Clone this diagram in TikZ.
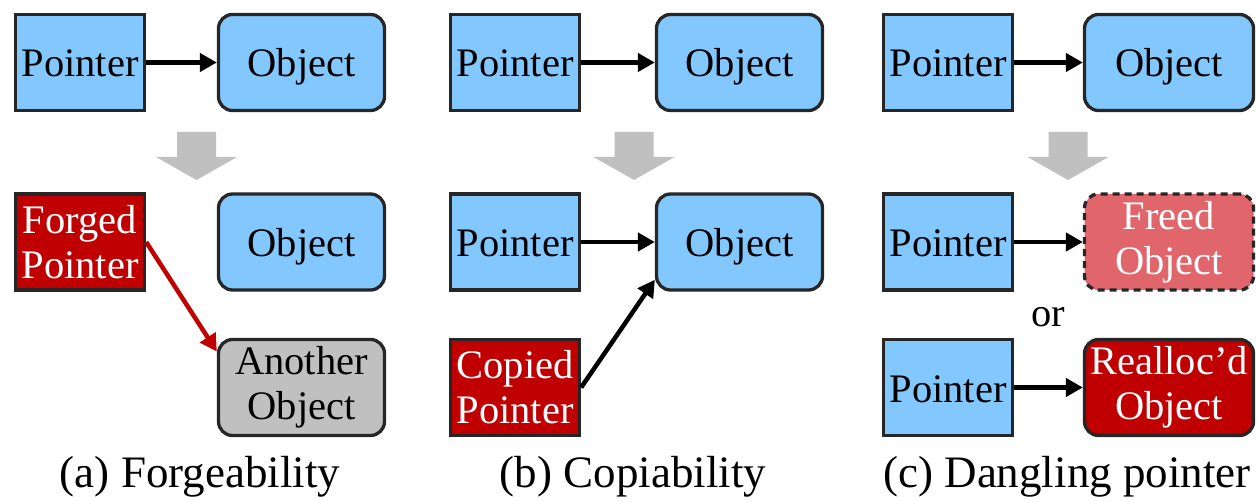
\documentclass[tikz,border=0pt]{standalone}
\usepackage{fontspec}
\setmainfont{Liberation Serif}
\usetikzlibrary{arrows.meta}
\definecolor{ptrblue}{RGB}{130,200,255}
\definecolor{badred}{RGB}{192,0,0}
\definecolor{freedred}{RGB}{224,102,108}
\definecolor{edgegray}{RGB}{38,38,38}
\definecolor{stepgray}{RGB}{192,192,192}
\begin{document}
\begin{tikzpicture}[x=1pt,y=-1pt,
  box/.style={draw=edgegray,line width=3.3pt,minimum width=129pt,minimum height=96pt,
    inner sep=0pt,align=center,font=\fontsize{40.5}{45}\selectfont},
  oneline/.style={text height=29pt,text depth=0pt},
  ptr/.style={box,oneline,fill=ptrblue},
  badptr/.style={box,fill=badred,text=white},
  obj/.style={box,rounded corners=14pt,minimum width=166pt,fill=ptrblue},
  link/.style={line width=4.5pt,-{Triangle[length=17pt,width=18pt]}},
  caption/.style={font=\fontsize{45}{50}\selectfont},
  stepdown/.pic={\fill[stepgray] (-19.5,0) -- (19.5,0) -- (19.5,25) -- (40.5,25)
      -- (0,48) -- (-40.5,25) -- (-19.5,25) -- cycle;}]
\useasboundingbox (0,0) rectangle (1257,502);

% (a) Forgeability
\node[ptr] (pa) at (80,62.5) {Pointer};
\node[obj,oneline] (oa) at (301.5,62.5) {Object};
\draw[link] (pa) -- (oa);
\pic at (196.5,132) {stepdown};
\node[badptr] (fa) at (80,242) {Forged\\Pointer};
\node[obj,oneline] (oa2) at (301.5,242) {Object};
\node[obj,fill=stepgray] (an) at (301.5,387.5) {Another\\Object};
\draw[link,draw=badred,fill=badred] (fa.east) -- (an.157);
\node[caption] (ca) at (200,477) {(a) Forgeability};

% (b) Copiability
\node[ptr] (pb) at (515,62.5) {Pointer};
\node[obj,oneline] (ob) at (739.5,62.5) {Object};
\draw[link] (pb) -- (ob);
\pic at (634,132) {stepdown};
\node[ptr] (pb2) at (515,242) {Pointer};
\node[obj,oneline] (ob2) at (739.5,242) {Object};
\draw[link] (pb2) -- (ob2);
\node[badptr] (cb) at (515,387.5) {Copied\\Pointer};
\draw[link] (cb.east) -- (ob2.204);
\node[caption] (cbc) at (633,477) {(b) Copiability};

% (c) Dangling pointer
\node[ptr] (pc) at (948,62.5) {Pointer};
\node[obj,oneline,minimum width=169pt] (oc) at (1169,62.5) {Object};
\draw[link] (pc) -- (oc);
\pic at (1068,132) {stepdown};
\node[ptr] (pc2) at (948,242) {Pointer};
\node[obj,minimum width=169pt,fill=freedred,text=white,dash pattern=on 7pt off 5pt] (fc) at (1169,242) {Freed\\Object};
\draw[link] (pc2) -- (fc);
\node[font=\fontsize{40.5}{45}\selectfont] (orc) at (1048,317) {or};
\node[ptr] (pc3) at (948,387.5) {Pointer};
\node[obj,minimum width=169pt,fill=badred,text=white] (rc) at (1169,387.5) {Realloc’d\\Object};
\draw[link] (pc3) -- (rc);
\node[caption] (ccc) at (1067,477) {(c) Dangling pointer};
\end{tikzpicture}
\end{document}
